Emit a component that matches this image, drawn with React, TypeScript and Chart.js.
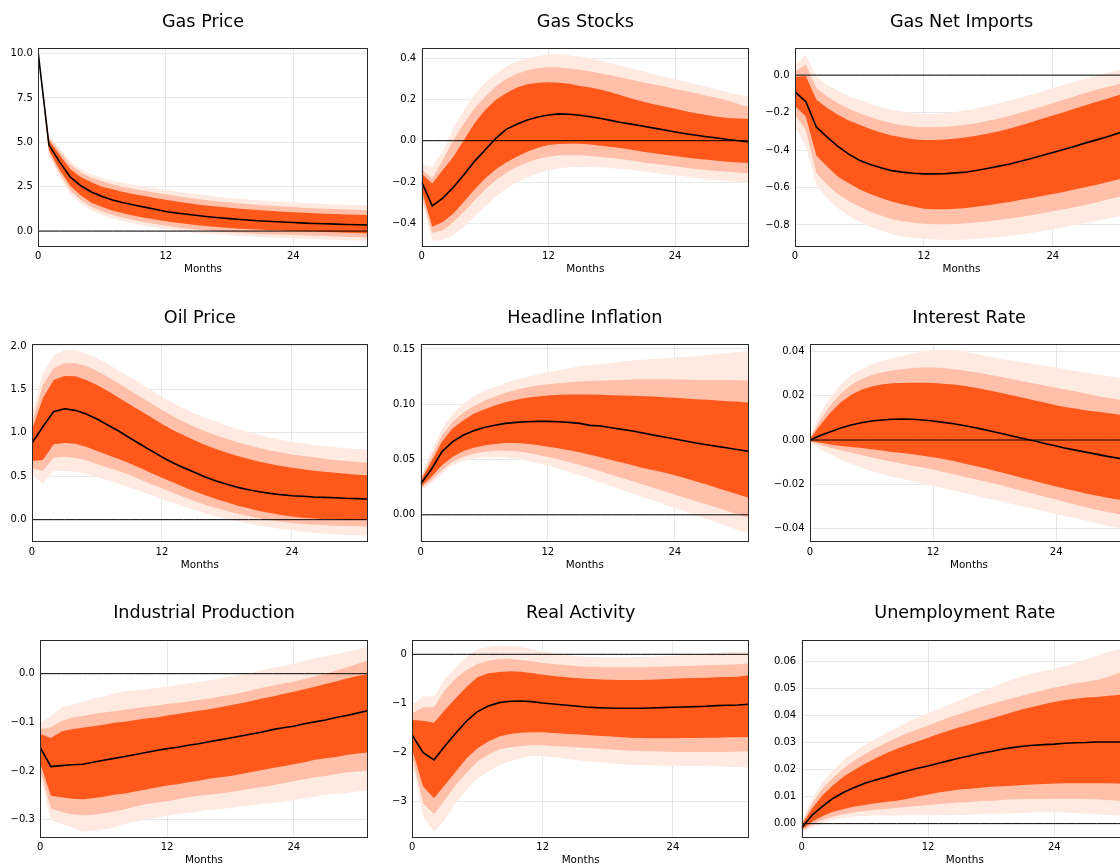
import React, { useEffect, useRef } from "react";
import { Chart, registerables } from "chart.js";

Chart.register(...registerables);

// ---------- horizon / axis ----------
const MONTHS = [0, 1, 2, 3, 4, 5, 6, 7, 8, 9, 10, 11, 12, 13, 14, 15, 16, 17, 18, 19, 20, 21, 22, 23, 24, 25, 26, 27, 28, 29, 30, 31];
const X_TICKS = [0, 12, 24];
const X_MIN = 0;
const X_MAX = 31;
const X_TITLE = "Months";

// ---------- Gas Price ----------
const GP_MED = [10.0, 4.85, 3.9, 3.05, 2.55, 2.2, 1.95, 1.75, 1.6, 1.47, 1.35, 1.23, 1.1, 1.02, 0.95, 0.88, 0.81, 0.75, 0.7, 0.65, 0.61, 0.57, 0.54, 0.51, 0.48, 0.45, 0.43, 0.41, 0.39, 0.37, 0.36, 0.35];
const GP_D_LO = [10.0, 4.55, 3.45, 2.55, 2.0, 1.6, 1.35, 1.15, 1.0, 0.87, 0.75, 0.65, 0.55, 0.47, 0.4, 0.33, 0.27, 0.22, 0.17, 0.13, 0.1, 0.07, 0.05, 0.03, 0.01, -0.01, -0.03, -0.05, -0.07, -0.09, -0.11, -0.13];
const GP_D_HI = [10.0, 5.12, 4.3, 3.5, 3.05, 2.75, 2.5, 2.35, 2.2, 2.08, 1.97, 1.86, 1.76, 1.67, 1.58, 1.5, 1.43, 1.37, 1.31, 1.26, 1.21, 1.17, 1.13, 1.09, 1.06, 1.03, 1.0, 0.98, 0.96, 0.94, 0.92, 0.9];
const GP_M_LO = [10.0, 4.4, 3.25, 2.3, 1.75, 1.35, 1.1, 0.9, 0.75, 0.62, 0.5, 0.4, 0.3, 0.22, 0.15, 0.09, 0.03, -0.02, -0.06, -0.1, -0.13, -0.16, -0.18, -0.2, -0.22, -0.24, -0.26, -0.28, -0.3, -0.32, -0.34, -0.36];
const GP_M_HI = [10.0, 5.25, 4.5, 3.75, 3.3, 3.0, 2.8, 2.62, 2.48, 2.37, 2.27, 2.17, 2.07, 1.98, 1.89, 1.81, 1.74, 1.67, 1.61, 1.56, 1.51, 1.46, 1.42, 1.38, 1.35, 1.32, 1.29, 1.26, 1.24, 1.22, 1.2, 1.18];
const GP_O_LO = [10.0, 4.25, 3.05, 2.1, 1.55, 1.15, 0.9, 0.7, 0.55, 0.42, 0.3, 0.2, 0.1, 0.02, -0.05, -0.11, -0.16, -0.2, -0.24, -0.28, -0.31, -0.34, -0.37, -0.39, -0.41, -0.43, -0.45, -0.47, -0.49, -0.51, -0.53, -0.54];
const GP_O_HI = [10.0, 5.35, 4.7, 3.95, 3.5, 3.2, 3.0, 2.85, 2.72, 2.6, 2.5, 2.4, 2.32, 2.23, 2.15, 2.07, 2.0, 1.93, 1.87, 1.82, 1.77, 1.72, 1.68, 1.64, 1.61, 1.58, 1.55, 1.52, 1.5, 1.48, 1.47, 1.46];

// ---------- Gas Stocks ----------
const GS_MED = [-0.2, -0.315, -0.278, -0.225, -0.165, -0.1, -0.045, 0.01, 0.055, 0.08, 0.1, 0.115, 0.124, 0.13, 0.128, 0.123, 0.116, 0.107, 0.097, 0.087, 0.079, 0.07, 0.061, 0.052, 0.042, 0.034, 0.026, 0.019, 0.013, 0.006, 0.0, -0.006];
const GS_D_LO = [-0.24, -0.417, -0.393, -0.352, -0.296, -0.236, -0.183, -0.139, -0.105, -0.078, -0.053, -0.034, -0.021, -0.016, -0.015, -0.015, -0.019, -0.024, -0.031, -0.037, -0.045, -0.053, -0.061, -0.068, -0.074, -0.081, -0.087, -0.092, -0.097, -0.102, -0.105, -0.108];
const GS_D_HI = [-0.16, -0.207, -0.142, -0.078, 0.003, 0.084, 0.149, 0.197, 0.23, 0.258, 0.273, 0.281, 0.283, 0.281, 0.275, 0.265, 0.257, 0.246, 0.233, 0.217, 0.202, 0.189, 0.176, 0.165, 0.154, 0.142, 0.133, 0.124, 0.116, 0.11, 0.107, 0.105];
const GS_M_LO = [-0.265, -0.445, -0.435, -0.393, -0.344, -0.288, -0.236, -0.191, -0.155, -0.126, -0.105, -0.089, -0.078, -0.071, -0.07, -0.07, -0.074, -0.079, -0.084, -0.09, -0.097, -0.105, -0.112, -0.118, -0.124, -0.131, -0.137, -0.142, -0.147, -0.15, -0.154, -0.157];
const GS_M_HI = [-0.14, -0.183, -0.094, 0.003, 0.084, 0.157, 0.213, 0.262, 0.299, 0.323, 0.341, 0.35, 0.355, 0.354, 0.349, 0.343, 0.335, 0.325, 0.315, 0.305, 0.294, 0.283, 0.272, 0.262, 0.25, 0.241, 0.23, 0.218, 0.207, 0.194, 0.178, 0.162];
const GS_O_LO = [-0.29, -0.485, -0.48, -0.457, -0.417, -0.368, -0.317, -0.271, -0.233, -0.202, -0.178, -0.158, -0.142, -0.133, -0.128, -0.127, -0.128, -0.129, -0.133, -0.137, -0.142, -0.149, -0.155, -0.162, -0.168, -0.175, -0.181, -0.186, -0.191, -0.196, -0.2, -0.205];
const GS_O_HI = [-0.118, -0.126, -0.053, 0.06, 0.149, 0.225, 0.281, 0.323, 0.359, 0.384, 0.4, 0.41, 0.417, 0.419, 0.414, 0.408, 0.4, 0.387, 0.374, 0.361, 0.348, 0.336, 0.323, 0.31, 0.297, 0.285, 0.272, 0.26, 0.247, 0.235, 0.223, 0.211];

// ---------- Gas Net Imports ----------
const GN_MED = [-0.089, -0.141, -0.278, -0.331, -0.381, -0.422, -0.454, -0.477, -0.495, -0.51, -0.518, -0.524, -0.527, -0.527, -0.526, -0.522, -0.517, -0.508, -0.497, -0.486, -0.474, -0.46, -0.445, -0.429, -0.413, -0.397, -0.381, -0.363, -0.347, -0.33, -0.312, -0.294];
const GN_D_LO = [-0.164, -0.221, -0.431, -0.488, -0.542, -0.577, -0.609, -0.634, -0.656, -0.675, -0.69, -0.702, -0.713, -0.716, -0.716, -0.713, -0.709, -0.702, -0.695, -0.686, -0.677, -0.666, -0.656, -0.645, -0.634, -0.624, -0.611, -0.599, -0.586, -0.572, -0.559, -0.545];
const GN_D_HI = [-0.01, -0.004, -0.132, -0.176, -0.212, -0.242, -0.265, -0.287, -0.306, -0.322, -0.333, -0.342, -0.347, -0.347, -0.344, -0.339, -0.331, -0.322, -0.312, -0.299, -0.285, -0.269, -0.251, -0.233, -0.216, -0.198, -0.18, -0.162, -0.144, -0.127, -0.109, -0.093];
const GN_M_LO = [-0.212, -0.292, -0.524, -0.586, -0.636, -0.672, -0.702, -0.729, -0.75, -0.768, -0.78, -0.788, -0.793, -0.796, -0.796, -0.795, -0.791, -0.786, -0.78, -0.773, -0.766, -0.757, -0.748, -0.738, -0.727, -0.716, -0.706, -0.693, -0.681, -0.666, -0.652, -0.64];
const GN_M_HI = [0.02, 0.055, -0.069, -0.114, -0.15, -0.18, -0.203, -0.224, -0.242, -0.257, -0.267, -0.274, -0.278, -0.278, -0.276, -0.271, -0.264, -0.255, -0.244, -0.232, -0.217, -0.201, -0.184, -0.167, -0.15, -0.132, -0.114, -0.096, -0.078, -0.064, -0.05, -0.036];
const GN_O_LO = [-0.274, -0.381, -0.586, -0.658, -0.711, -0.752, -0.782, -0.809, -0.83, -0.848, -0.861, -0.869, -0.875, -0.878, -0.88, -0.88, -0.878, -0.875, -0.869, -0.864, -0.859, -0.852, -0.843, -0.834, -0.823, -0.812, -0.802, -0.791, -0.78, -0.768, -0.755, -0.743];
const GN_O_HI = [0.055, 0.109, -0.01, -0.052, -0.084, -0.11, -0.132, -0.153, -0.171, -0.185, -0.196, -0.203, -0.207, -0.207, -0.203, -0.196, -0.187, -0.176, -0.164, -0.15, -0.135, -0.119, -0.103, -0.087, -0.069, -0.052, -0.036, -0.02, -0.004, 0.011, 0.025, 0.039];

// ---------- Oil Price ----------
const OP_MED = [0.883, 1.07, 1.244, 1.278, 1.259, 1.217, 1.159, 1.09, 1.021, 0.944, 0.868, 0.795, 0.722, 0.656, 0.599, 0.545, 0.491, 0.445, 0.407, 0.372, 0.345, 0.322, 0.303, 0.288, 0.276, 0.269, 0.261, 0.257, 0.253, 0.246, 0.242, 0.238];
const OP_D_LO = [0.676, 0.687, 0.868, 0.883, 0.875, 0.841, 0.791, 0.745, 0.699, 0.649, 0.595, 0.537, 0.484, 0.43, 0.376, 0.326, 0.28, 0.238, 0.2, 0.161, 0.131, 0.1, 0.077, 0.054, 0.038, 0.023, 0.015, 0.008, 0.004, 0.0, -0.004, -0.004];
const OP_D_HI = [1.033, 1.397, 1.608, 1.655, 1.651, 1.608, 1.551, 1.482, 1.405, 1.328, 1.255, 1.179, 1.102, 1.033, 0.971, 0.914, 0.86, 0.814, 0.772, 0.733, 0.699, 0.668, 0.641, 0.618, 0.599, 0.58, 0.564, 0.553, 0.541, 0.53, 0.518, 0.511];
const OP_M_LO = [0.591, 0.56, 0.714, 0.726, 0.714, 0.683, 0.637, 0.599, 0.56, 0.514, 0.464, 0.411, 0.361, 0.311, 0.261, 0.215, 0.173, 0.134, 0.1, 0.069, 0.042, 0.015, -0.004, -0.023, -0.038, -0.05, -0.058, -0.065, -0.069, -0.073, -0.077, -0.081];
const OP_M_HI = [1.109, 1.551, 1.743, 1.8, 1.8, 1.77, 1.712, 1.643, 1.57, 1.493, 1.417, 1.34, 1.263, 1.194, 1.129, 1.071, 1.017, 0.971, 0.929, 0.891, 0.856, 0.825, 0.798, 0.775, 0.752, 0.733, 0.718, 0.702, 0.687, 0.676, 0.664, 0.656];
const OP_O_LO = [0.514, 0.418, 0.56, 0.56, 0.553, 0.526, 0.491, 0.453, 0.415, 0.372, 0.326, 0.284, 0.238, 0.196, 0.154, 0.111, 0.073, 0.038, 0.008, -0.019, -0.046, -0.069, -0.088, -0.107, -0.123, -0.138, -0.15, -0.161, -0.169, -0.177, -0.18, -0.184];
const OP_O_HI = [1.205, 1.685, 1.896, 1.954, 1.954, 1.916, 1.858, 1.793, 1.72, 1.647, 1.57, 1.493, 1.417, 1.347, 1.282, 1.225, 1.175, 1.129, 1.083, 1.044, 1.01, 0.975, 0.944, 0.921, 0.898, 0.879, 0.86, 0.845, 0.833, 0.822, 0.814, 0.806];

// ---------- Headline Inflation ----------
const HI_MED = [0.028, 0.041, 0.057, 0.066, 0.072, 0.076, 0.079, 0.081, 0.0827, 0.0836, 0.0842, 0.0845, 0.0845, 0.0842, 0.0836, 0.0827, 0.0809, 0.0803, 0.0788, 0.0773, 0.0758, 0.074, 0.0721, 0.0703, 0.0685, 0.0667, 0.0649, 0.0634, 0.0619, 0.0604, 0.0589, 0.0574];
const HI_D_LO = [0.0253, 0.0343, 0.0448, 0.0523, 0.0574, 0.0607, 0.0628, 0.064, 0.0649, 0.0649, 0.0643, 0.0631, 0.0616, 0.0601, 0.0583, 0.0565, 0.0544, 0.052, 0.0496, 0.0472, 0.0448, 0.0424, 0.0403, 0.0382, 0.0358, 0.0331, 0.0301, 0.0274, 0.0243, 0.0213, 0.0183, 0.0153];
const HI_D_HI = [0.031, 0.048, 0.066, 0.078, 0.0854, 0.0914, 0.0953, 0.0989, 0.1019, 0.104, 0.1058, 0.107, 0.1079, 0.1085, 0.1088, 0.1088, 0.1088, 0.1085, 0.1082, 0.1079, 0.1076, 0.1073, 0.107, 0.1064, 0.1058, 0.1052, 0.1046, 0.104, 0.1034, 0.1028, 0.1022, 0.1013];
const HI_M_LO = [0.0237, 0.0313, 0.0403, 0.0478, 0.0523, 0.0553, 0.0571, 0.058, 0.058, 0.0574, 0.0562, 0.0544, 0.0523, 0.0502, 0.0478, 0.0451, 0.0424, 0.0394, 0.0364, 0.0334, 0.0304, 0.0274, 0.0243, 0.0213, 0.0183, 0.0153, 0.0123, 0.0093, 0.0063, 0.0033, 0.0003, -0.0027];
const HI_M_HI = [0.0328, 0.0523, 0.0718, 0.0839, 0.0923, 0.0983, 0.1031, 0.107, 0.1103, 0.113, 0.1151, 0.1169, 0.1181, 0.119, 0.1199, 0.1205, 0.1211, 0.1214, 0.1217, 0.122, 0.1223, 0.1226, 0.1226, 0.1226, 0.1223, 0.1223, 0.122, 0.122, 0.122, 0.122, 0.1217, 0.1214];
const HI_O_LO = [0.0222, 0.0283, 0.0373, 0.0448, 0.0487, 0.0508, 0.052, 0.0523, 0.052, 0.0508, 0.049, 0.0469, 0.0445, 0.0418, 0.0388, 0.0358, 0.0325, 0.0292, 0.0259, 0.0225, 0.0192, 0.0159, 0.0126, 0.0093, 0.006, 0.0027, -0.0006, -0.0039, -0.0072, -0.0105, -0.0138, -0.0177];
const HI_O_HI = [0.0343, 0.0568, 0.0779, 0.0914, 0.1004, 0.107, 0.1118, 0.1157, 0.1193, 0.1223, 0.1247, 0.1269, 0.129, 0.1308, 0.1326, 0.1344, 0.1356, 0.1365, 0.1374, 0.1386, 0.1395, 0.1404, 0.141, 0.1416, 0.1422, 0.1428, 0.1437, 0.1446, 0.1455, 0.1464, 0.1476, 0.1485];

// ---------- Interest Rate ----------
const IR_MED = [0.0, 0.002, 0.0038, 0.0054, 0.0068, 0.0078, 0.0086, 0.0091, 0.0094, 0.0095, 0.0094, 0.0091, 0.0086, 0.008, 0.0074, 0.0066, 0.0057, 0.0047, 0.0036, 0.0026, 0.0015, 0.0005, -0.0006, -0.0017, -0.0027, -0.0038, -0.0047, -0.0056, -0.0065, -0.0074, -0.0082, -0.0089];
const IR_D_LO = [-0.0005, -0.0012, -0.002, -0.0027, -0.0032, -0.0036, -0.0042, -0.0048, -0.0054, -0.0059, -0.0065, -0.0071, -0.0078, -0.0086, -0.0095, -0.0106, -0.0116, -0.0127, -0.0139, -0.0151, -0.0163, -0.0175, -0.0187, -0.0199, -0.0211, -0.0222, -0.0232, -0.0243, -0.0252, -0.0261, -0.0269, -0.0275];
const IR_D_HI = [0.0005, 0.0068, 0.0125, 0.0171, 0.0204, 0.0228, 0.0242, 0.0252, 0.0257, 0.0258, 0.026, 0.026, 0.0258, 0.0255, 0.0252, 0.0246, 0.0238, 0.0229, 0.022, 0.021, 0.0199, 0.0189, 0.0178, 0.0169, 0.0158, 0.0149, 0.0142, 0.0134, 0.0128, 0.0122, 0.0116, 0.011];
const IR_M_LO = [-0.0008, -0.0023, -0.0035, -0.0047, -0.0057, -0.0068, -0.0078, -0.0089, -0.0098, -0.0107, -0.0116, -0.0125, -0.0134, -0.0145, -0.0155, -0.0166, -0.0177, -0.0187, -0.0198, -0.021, -0.0222, -0.0234, -0.0246, -0.0258, -0.027, -0.0282, -0.0294, -0.0306, -0.0317, -0.0326, -0.0335, -0.0343];
const IR_M_HI = [0.0008, 0.0091, 0.0158, 0.0211, 0.0249, 0.0276, 0.0294, 0.0306, 0.0315, 0.0321, 0.0326, 0.0328, 0.0328, 0.0326, 0.0321, 0.0315, 0.0308, 0.03, 0.0291, 0.0282, 0.0273, 0.0264, 0.0255, 0.0246, 0.0237, 0.0228, 0.0219, 0.021, 0.0199, 0.0192, 0.0184, 0.0177];
const IR_O_LO = [-0.0015, -0.0041, -0.0065, -0.0088, -0.0107, -0.0125, -0.014, -0.0154, -0.0166, -0.0177, -0.0187, -0.0198, -0.0208, -0.0219, -0.0229, -0.024, -0.025, -0.0261, -0.0272, -0.0282, -0.0293, -0.0303, -0.0314, -0.0325, -0.0335, -0.0346, -0.0356, -0.0367, -0.0377, -0.0388, -0.0398, -0.0409];
const IR_O_HI = [0.0015, 0.0121, 0.0196, 0.0252, 0.0294, 0.0321, 0.0343, 0.0358, 0.037, 0.0382, 0.0392, 0.0403, 0.0408, 0.0409, 0.0408, 0.0403, 0.0392, 0.0382, 0.0373, 0.0365, 0.0358, 0.035, 0.0343, 0.0335, 0.0328, 0.032, 0.0312, 0.0305, 0.0297, 0.029, 0.0282, 0.0275];

// ---------- Industrial Production ----------
const IP_MED = [-0.152, -0.191, -0.189, -0.187, -0.186, -0.182, -0.178, -0.174, -0.17, -0.166, -0.162, -0.158, -0.154, -0.151, -0.147, -0.144, -0.14, -0.136, -0.132, -0.128, -0.124, -0.12, -0.115, -0.111, -0.108, -0.103, -0.099, -0.095, -0.09, -0.086, -0.081, -0.076];
const IP_D_LO = [-0.184, -0.251, -0.254, -0.257, -0.258, -0.256, -0.253, -0.249, -0.246, -0.242, -0.238, -0.234, -0.23, -0.227, -0.223, -0.22, -0.216, -0.213, -0.21, -0.206, -0.202, -0.198, -0.194, -0.19, -0.186, -0.182, -0.177, -0.174, -0.171, -0.167, -0.164, -0.162];
const IP_D_HI = [-0.124, -0.132, -0.119, -0.114, -0.111, -0.108, -0.105, -0.101, -0.099, -0.095, -0.092, -0.09, -0.086, -0.083, -0.079, -0.076, -0.073, -0.069, -0.065, -0.061, -0.056, -0.051, -0.047, -0.042, -0.037, -0.032, -0.027, -0.021, -0.016, -0.01, -0.005, -0.001];
const IP_M_LO = [-0.198, -0.277, -0.284, -0.289, -0.291, -0.29, -0.287, -0.283, -0.279, -0.273, -0.268, -0.265, -0.262, -0.258, -0.254, -0.251, -0.249, -0.246, -0.243, -0.24, -0.236, -0.233, -0.229, -0.225, -0.221, -0.217, -0.213, -0.21, -0.206, -0.203, -0.201, -0.199];
const IP_M_HI = [-0.114, -0.11, -0.097, -0.09, -0.087, -0.083, -0.08, -0.077, -0.074, -0.071, -0.068, -0.066, -0.062, -0.06, -0.057, -0.054, -0.051, -0.047, -0.044, -0.039, -0.034, -0.029, -0.025, -0.02, -0.016, -0.011, -0.006, 0.0, 0.006, 0.013, 0.02, 0.027];
const IP_O_LO = [-0.212, -0.301, -0.309, -0.316, -0.325, -0.323, -0.32, -0.316, -0.309, -0.304, -0.299, -0.296, -0.292, -0.289, -0.286, -0.283, -0.28, -0.278, -0.276, -0.273, -0.271, -0.268, -0.266, -0.263, -0.26, -0.256, -0.253, -0.249, -0.247, -0.245, -0.242, -0.241];
const IP_O_HI = [-0.101, -0.088, -0.069, -0.064, -0.058, -0.051, -0.047, -0.04, -0.036, -0.034, -0.032, -0.029, -0.027, -0.023, -0.02, -0.017, -0.014, -0.01, -0.006, -0.002, 0.002, 0.007, 0.012, 0.016, 0.021, 0.026, 0.031, 0.036, 0.04, 0.045, 0.05, 0.055];

// ---------- Real Activity ----------
const RA_MED = [-1.653, -2.007, -2.156, -1.871, -1.612, -1.361, -1.17, -1.054, -0.986, -0.959, -0.952, -0.966, -0.993, -1.014, -1.034, -1.054, -1.075, -1.088, -1.095, -1.102, -1.102, -1.102, -1.095, -1.088, -1.082, -1.075, -1.068, -1.061, -1.048, -1.041, -1.034, -1.02];
const RA_D_LO = [-1.952, -2.7, -2.939, -2.667, -2.395, -2.122, -1.918, -1.782, -1.68, -1.626, -1.599, -1.592, -1.592, -1.605, -1.619, -1.633, -1.646, -1.66, -1.673, -1.687, -1.701, -1.707, -1.714, -1.714, -1.714, -1.707, -1.707, -1.701, -1.701, -1.694, -1.694, -1.687];
const RA_D_HI = [-1.34, -1.354, -1.395, -1.136, -0.898, -0.66, -0.469, -0.388, -0.361, -0.347, -0.354, -0.381, -0.415, -0.442, -0.463, -0.483, -0.497, -0.51, -0.517, -0.524, -0.524, -0.524, -0.517, -0.51, -0.497, -0.49, -0.483, -0.476, -0.469, -0.463, -0.456, -0.429];
const RA_M_LO = [-2.088, -3.041, -3.259, -2.973, -2.667, -2.415, -2.19, -2.048, -1.939, -1.898, -1.871, -1.857, -1.857, -1.871, -1.884, -1.898, -1.912, -1.925, -1.939, -1.952, -1.966, -1.973, -1.98, -1.986, -1.993, -1.993, -1.993, -1.993, -1.993, -1.993, -1.986, -1.986];
const RA_M_HI = [-1.204, -1.082, -1.082, -0.728, -0.49, -0.32, -0.197, -0.129, -0.095, -0.095, -0.116, -0.143, -0.177, -0.197, -0.218, -0.238, -0.252, -0.259, -0.265, -0.265, -0.265, -0.265, -0.259, -0.252, -0.245, -0.238, -0.231, -0.224, -0.218, -0.211, -0.204, -0.19];
const RA_O_LO = [-2.19, -3.313, -3.619, -3.381, -3.041, -2.769, -2.531, -2.395, -2.259, -2.19, -2.122, -2.075, -2.075, -2.102, -2.129, -2.156, -2.184, -2.204, -2.224, -2.238, -2.252, -2.259, -2.265, -2.272, -2.279, -2.279, -2.279, -2.279, -2.286, -2.293, -2.299, -2.313];
const RA_O_HI = [-1.034, -0.85, -0.864, -0.51, -0.265, -0.048, 0.102, 0.156, 0.184, 0.17, 0.156, 0.109, 0.061, 0.02, -0.014, -0.034, -0.048, -0.054, -0.061, -0.061, -0.061, -0.054, -0.048, -0.041, -0.027, -0.014, 0.0, 0.014, 0.027, 0.041, 0.054, 0.054];

// ---------- Unemployment Rate ----------
const UR_MED = [-0.0015, 0.0032, 0.0065, 0.0094, 0.0116, 0.0134, 0.0149, 0.0161, 0.0172, 0.0184, 0.0195, 0.0205, 0.0213, 0.0223, 0.0233, 0.0243, 0.0251, 0.026, 0.0267, 0.0275, 0.0281, 0.0286, 0.029, 0.0292, 0.0294, 0.0297, 0.0299, 0.03, 0.0302, 0.0302, 0.0302, 0.0302];
const UR_D_LO = [-0.0023, 0.0007, 0.0028, 0.0044, 0.0054, 0.0063, 0.0069, 0.0075, 0.008, 0.0085, 0.0091, 0.01, 0.0108, 0.0115, 0.0121, 0.0126, 0.0129, 0.0133, 0.0136, 0.0138, 0.014, 0.0143, 0.0145, 0.0147, 0.0148, 0.0149, 0.0149, 0.0149, 0.0149, 0.0149, 0.0148, 0.0147];
const UR_D_HI = [-0.0005, 0.0057, 0.0106, 0.0143, 0.0174, 0.0198, 0.0221, 0.0241, 0.026, 0.0276, 0.0291, 0.0304, 0.0318, 0.0331, 0.0344, 0.0356, 0.0367, 0.0378, 0.0389, 0.04, 0.0412, 0.0423, 0.0432, 0.0441, 0.045, 0.0457, 0.0462, 0.0466, 0.0468, 0.0472, 0.0476, 0.0478];
const UR_M_LO = [-0.0026, -0.0005, 0.0014, 0.0026, 0.0036, 0.0042, 0.0047, 0.0051, 0.0054, 0.0058, 0.0062, 0.0065, 0.0069, 0.0073, 0.0075, 0.0078, 0.008, 0.0083, 0.0085, 0.0087, 0.009, 0.0091, 0.0091, 0.0091, 0.0092, 0.0092, 0.0092, 0.0091, 0.009, 0.0087, 0.0085, 0.0083];
const UR_M_HI = [0.0001, 0.0075, 0.0131, 0.0171, 0.0205, 0.0233, 0.0257, 0.028, 0.0299, 0.0318, 0.0334, 0.0349, 0.0363, 0.0378, 0.0393, 0.0405, 0.0418, 0.043, 0.0442, 0.0453, 0.0464, 0.0474, 0.0484, 0.0494, 0.0503, 0.0511, 0.0519, 0.0525, 0.0531, 0.0541, 0.0556, 0.0562];
const UR_O_LO = [-0.003, -0.0014, 0.0001, 0.0014, 0.0021, 0.0026, 0.0028, 0.003, 0.003, 0.003, 0.0031, 0.0031, 0.0031, 0.0031, 0.0032, 0.0032, 0.0033, 0.0035, 0.0036, 0.0037, 0.0038, 0.0039, 0.0041, 0.0042, 0.0042, 0.0041, 0.0039, 0.0037, 0.0035, 0.0032, 0.003, 0.0027];
const UR_O_HI = [0.0007, 0.0094, 0.0155, 0.0198, 0.0235, 0.0266, 0.0291, 0.0313, 0.0334, 0.0355, 0.0375, 0.0392, 0.0408, 0.0424, 0.044, 0.0456, 0.0472, 0.0488, 0.0503, 0.0519, 0.0533, 0.0546, 0.0556, 0.0564, 0.0573, 0.0583, 0.0595, 0.0607, 0.062, 0.0633, 0.0644, 0.0648];

// ---------- y tick labels ----------
const GP_TICKS = [0, 2.5, 5, 7.5, 10];
const GS_TICKS = [-0.4, -0.2, 0, 0.2, 0.4];
const GN_TICKS = [-0.8, -0.6, -0.4, -0.2, 0];
const OP_TICKS = [0, 0.5, 1, 1.5, 2];
const HI_TICKS = [0, 0.05, 0.1, 0.15];
const IR_TICKS = [-0.04, -0.02, 0, 0.02, 0.04];
const IP_TICKS = [-0.3, -0.2, -0.1, 0];
const RA_TICKS = [-3, -2, -1, 0];
const UR_TICKS = [0, 0.01, 0.02, 0.03, 0.04, 0.05, 0.06];

// ---------- panels (series references) ----------
const PANELS = [
  { title: "Gas Price", med: GP_MED, d: [GP_D_LO, GP_D_HI], m: [GP_M_LO, GP_M_HI], o: [GP_O_LO, GP_O_HI], ticks: GP_TICKS, dec: 1, yMin: -0.88, yMax: 10.34 },
  { title: "Gas Stocks", med: GS_MED, d: [GS_D_LO, GS_D_HI], m: [GS_M_LO, GS_M_HI], o: [GS_O_LO, GS_O_HI], ticks: GS_TICKS, dec: 1, yMin: -0.513, yMax: 0.451 },
  { title: "Gas Net Imports", med: GN_MED, d: [GN_D_LO, GN_D_HI], m: [GN_M_LO, GN_M_HI], o: [GN_O_LO, GN_O_HI], ticks: GN_TICKS, dec: 1, yMin: -0.916, yMax: 0.1475 },
  { title: "Oil Price", med: OP_MED, d: [OP_D_LO, OP_D_HI], m: [OP_M_LO, OP_M_HI], o: [OP_O_LO, OP_O_HI], ticks: OP_TICKS, dec: 1, yMin: -0.257, yMax: 2.023 },
  { title: "Headline Inflation", med: HI_MED, d: [HI_D_LO, HI_D_HI], m: [HI_M_LO, HI_M_HI], o: [HI_O_LO, HI_O_HI], ticks: HI_TICKS, dec: 2, yMin: -0.0246, yMax: 0.1545 },
  { title: "Interest Rate", med: IR_MED, d: [IR_D_LO, IR_D_HI], m: [IR_M_LO, IR_M_HI], o: [IR_O_LO, IR_O_HI], ticks: IR_TICKS, dec: 2, yMin: -0.0462, yMax: 0.0435 },
  { title: "Industrial Production", med: IP_MED, d: [IP_D_LO, IP_D_HI], m: [IP_M_LO, IP_M_HI], o: [IP_O_LO, IP_O_HI], ticks: IP_TICKS, dec: 1, yMin: -0.337, yMax: 0.0692 },
  { title: "Real Activity", med: RA_MED, d: [RA_D_LO, RA_D_HI], m: [RA_M_LO, RA_M_HI], o: [RA_O_LO, RA_O_HI], ticks: RA_TICKS, dec: 0, yMin: -3.743, yMax: 0.292 },
  { title: "Unemployment Rate", med: UR_MED, d: [UR_D_LO, UR_D_HI], m: [UR_M_LO, UR_M_HI], o: [UR_O_LO, UR_O_HI], ticks: UR_TICKS, dec: 2, yMin: -0.0052, yMax: 0.0679 },
];

// ---------- layout & style ----------
const FONT = "'DejaVu Sans', sans-serif";
const C_DARK = "rgb(255, 88, 27)";
const C_MID = "rgb(255, 191, 169)";
const C_LIGHT = "rgb(255, 234, 226)";
const GRID = "rgba(0, 0, 0, 0.09)";
const FRAME = "#2a2a2a";

const CW = 380;
const CH = 277;
const COL_LEFT = [0, 380, 760];
const COL_PLOT_RIGHT = [367.7, 749, 1128];
const ROW_TOP = [0, 295, 590];
const ROW_TITLE_C = [22.2, 318, 613.7];
const ROW_PLOT_TOP = [47.5, 344, 640];
const ROW_PLOT_BOTTOM = [246.7, 542, 837.7];
const ROW_MONTHS_C = [269.3, 565, 860.7];
const PLOT_LEFT = [38.3, 421.7, 795, 32, 420.7, 810, 40.3, 412.3, 801.7];

const TITLE_SIZE = 17.6;
const TICK_SIZE = 10;
const XTITLE_SIZE = 10.4;
const LH = 1.2;

function fmt(v: number, dec: number): string {
  const s = Math.abs(v) < 1e-12 ? (0).toFixed(dec) : v.toFixed(dec);
  return s.replace("-", "\u2212");
}

const framePlugin = {
  id: "frame",
  afterDraw(chart: any) {
    const { ctx, chartArea: a } = chart;
    const l = Math.round(a.left) + 0.5;
    const t = Math.round(a.top) + 0.5;
    const r = Math.round(a.right) - 0.5;
    const b = Math.round(a.bottom) - 0.5;
    ctx.save();
    ctx.strokeStyle = FRAME;
    ctx.lineWidth = 1;
    ctx.strokeRect(l, t, r - l, b - t);
    ctx.restore();
  },
};

function pts(arr: number[]) {
  return arr.map((y, i) => ({ x: MONTHS[i], y }));
}

function Panel({ idx }: { idx: number }) {
  const ref = useRef<HTMLCanvasElement>(null);
  const row = Math.floor(idx / 3);
  const col = idx % 3;
  const left = COL_LEFT[col];
  const top = ROW_TOP[row];

  useEffect(() => {
    const p = PANELS[idx];
    const yW = PLOT_LEFT[idx] - left;
    const padRight = left + CW - COL_PLOT_RIGHT[col];
    const xH = CH - (ROW_PLOT_BOTTOM[row] - top);
    const lhT = TITLE_SIZE * LH;
    const tc = ROW_TITLE_C[row] - top;
    const pt = ROW_PLOT_TOP[row] - top;
    const titlePadTop = tc - lhT / 2;
    const titlePadBottom = pt - tc - lhT / 2;
    const mc = ROW_MONTHS_C[row] - top;
    const xTitlePadBottom = Math.max(0, CH - mc - (XTITLE_SIZE * LH) / 2);

    const band = (data: number[], color: string, order: number, target?: number) => ({
      data: pts(data),
      borderWidth: 0,
      pointRadius: 0,
      backgroundColor: color,
      borderColor: color,
      fill: target === undefined ? false : target,
      tension: 0,
      order,
    });

    // dataset indices: 0 median, 1 zero, 2 dHi, 3 dLo, 4 mHi, 5 mLo, 6 oHi, 7 oLo
    const datasets: any[] = [
      { data: pts(p.med), borderColor: "#000", borderWidth: 1.6, pointRadius: 0, fill: false, tension: 0, order: 0 },
      { data: pts(p.med.map(() => 0)), borderColor: "#000", borderWidth: 1, pointRadius: 0, fill: false, tension: 0, order: 1 },
      band(p.d[1], C_DARK, 2, 3),
      band(p.d[0], C_DARK, 3),
      band(p.m[1], C_MID, 4, 5),
      band(p.m[0], C_MID, 5),
      band(p.o[1], C_LIGHT, 6, 7),
      band(p.o[0], C_LIGHT, 7),
    ];

    const chart = new Chart(ref.current as HTMLCanvasElement, {
      type: "line",
      data: { datasets },
      plugins: [framePlugin],
      options: {
        responsive: false,
        animation: false,
        events: [],
        layout: { padding: { left: 0, right: padRight, top: 0, bottom: 0 } },
        plugins: {
          legend: { display: false },
          tooltip: { enabled: false },
          filler: { propagate: false },
          title: {
            display: true,
            text: p.title,
            fullSize: false,
            color: "#000",
            font: { family: FONT, size: TITLE_SIZE, weight: "normal", lineHeight: LH },
            padding: { top: titlePadTop, bottom: titlePadBottom },
          },
        },
        scales: {
          x: {
            type: "linear",
            min: X_MIN,
            max: X_MAX,
            z: 1,
            afterFit: (s: any) => {
              s.height = xH;
            },
            afterBuildTicks: (s: any) => {
              s.ticks = X_TICKS.map((v) => ({ value: v }));
            },
            grid: { color: GRID, lineWidth: 1, drawTicks: false },
            border: { display: false },
            ticks: {
              color: "#000",
              font: { family: FONT, size: TICK_SIZE, lineHeight: LH },
              padding: 4,
              maxRotation: 0,
              autoSkip: false,
              callback: (v: any) => String(v),
            },
            title: {
              display: true,
              text: X_TITLE,
              color: "#000",
              font: { family: FONT, size: XTITLE_SIZE, lineHeight: LH },
              padding: { top: 0, bottom: xTitlePadBottom },
            },
          },
          y: {
            type: "linear",
            min: p.yMin,
            max: p.yMax,
            z: 1,
            afterFit: (s: any) => {
              s.width = yW;
            },
            afterBuildTicks: (s: any) => {
              s.ticks = p.ticks.map((v) => ({ value: v }));
            },
            grid: { color: GRID, lineWidth: 1, drawTicks: false },
            border: { display: false },
            ticks: {
              color: "#000",
              font: { family: FONT, size: TICK_SIZE, lineHeight: LH },
              padding: 5.5,
              autoSkip: false,
              callback: (v: any) => fmt(Number(v), p.dec),
            },
          },
        },
      } as any,
    });
    return () => chart.destroy();
  }, []);

  return (
    <canvas
      ref={ref}
      width={CW}
      height={CH}
      style={{ position: "absolute", left, top, width: CW, height: CH, display: "block" }}
    />
  );
}

export default function App() {
  return (
    <div
      style={{
        position: "fixed",
        left: 0,
        top: 0,
        width: 1120,
        height: 867,
        overflow: "hidden",
        background: "#fff",
      }}
    >
      {PANELS.map((_, i) => (
        <Panel key={i} idx={i} />
      ))}
    </div>
  );
}
